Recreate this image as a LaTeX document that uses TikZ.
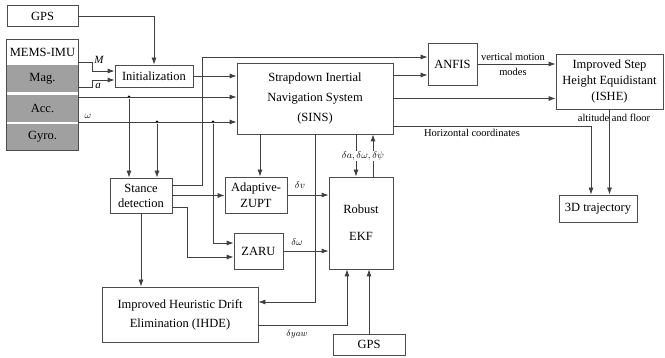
\documentclass[tikz,border=0pt]{standalone}
\usepackage{fontspec}
\setmainfont{Liberation Serif}
\usetikzlibrary{positioning, arrows.meta}
\definecolor{imugray}{RGB}{160,160,160}

\begin{document}
\begin{tikzpicture}[x=1pt, y=-1pt,
        block/.style={rectangle, draw=black!70, line width=0.8pt, fill=white, align=center, inner sep=2pt, font=\fontsize{12.5}{16}\selectfont},
        row/.style={rectangle, draw=none, minimum width=71pt, inner sep=0pt, font=\fontsize{12.5}{15}\selectfont},
        arrow/.style={-{Latex[length=7pt,width=5pt]}, line width=0.8pt, draw=black!75},
        lbl/.style={inner sep=1pt, font=\fontsize{10.5}{12}\selectfont},
        dot/.style={circle, fill=black, inner sep=0pt, minimum size=3pt}
    ]
    \useasboundingbox (0,0) rectangle (665,358);

    % sensors
    \node[block, minimum width=71pt, minimum height=21pt] (gpsa) at (42.5,16) {GPS};
    \node[row, minimum height=25pt] (mems) at (42.5,52.5) {MEMS-IMU};
    \node[row, fill=imugray, minimum height=27pt] (mag) at (42.5,78.5) {Mag.};
    \node[row, fill=imugray, minimum height=27pt] (acc) at (42.5,108.5) {Acc.};
    \node[row, fill=imugray, minimum height=26pt] (gyro) at (42.5,137) {Gyro.};
    \draw[line width=0.8pt, draw=black!70] (mems.north west) rectangle (gyro.south east);

    % blocks
    \node[block, minimum width=78pt, minimum height=22pt] (init) at (154,76) {Initialization};
    \node[block, minimum width=156pt, minimum height=71pt, font=\fontsize{12.5}{20}\selectfont] (sins) at (315,98.5) {Strapdown Inertial\\Navigation System\\(SINS)};
    \node[block, minimum width=49pt, minimum height=42pt] (anfis) at (452.5,64) {ANFIS};
    \node[block, minimum width=107pt, minimum height=55pt] (ishe) at (609.5,81.5) {Improved Step\\Height Equidistant\\(ISHE)};
    \node[block, minimum width=78pt, minimum height=27pt] (traj) at (598,208.5) {3D trajectory};
    \node[block, minimum width=62pt, minimum height=35pt, font=\fontsize{12.5}{15}\selectfont] (stance) at (141,195.5) {Stance\\detection};
    \node[block, minimum width=62pt, minimum height=36pt] (zupt) at (256,195) {Adaptive-\\ZUPT};
    \node[block, minimum width=49pt, minimum height=36pt] (zaru) at (258.5,251) {ZARU};
    \node[block, minimum width=64pt, minimum height=92pt, font=\fontsize{12.5}{27}\selectfont] (ekf) at (361,223) {Robust\\EKF};
    \node[block, minimum width=156pt, minimum height=55pt, font=\fontsize{12.5}{19}\selectfont] (ihde) at (180,314.5) {Improved Heuristic Drift\\Elimination (IHDE)};
    \node[block, minimum width=72pt, minimum height=21pt] (gpsb) at (369,344.5) {GPS};

    % inputs
    \coordinate (mout) at (78,62);
    \coordinate (aout) at (78,87);
    \coordinate (accout) at (78,97);
    \coordinate (gyrout) at (78,122);
    \node[dot] (d1) at (129,97) {};
    \node[dot] (d2) at (157,122) {};
    \node[dot] (d3) at (213,122) {};

    \draw[arrow] (gpsa.east) -| (init.north);
    \draw[arrow] (mout) -- ++(14,0) |- ([yshift=5pt]init.west);
    \draw[arrow] (aout) -- ++(14,0) |- ([yshift=-4pt]init.west);
    \node[lbl, font=\fontsize{11}{12}\itshape] at (99,60) {M};
    \node[lbl, font=\fontsize{11}{12}\itshape] at (98,86) {a};
    \node[lbl, font=\fontsize{10}{12}\itshape] at (88,116) {$\omega$};
    \draw[arrow] (init.east) -- (init.east -| sins.west);
    \draw[arrow] (accout) -- (accout -| sins.west);
    \draw[arrow] (gyrout) -- (gyrout -| sins.west);
    \draw[arrow] (d1) -- (d1 |- stance.north);
    \draw[arrow] (d2) -- (d2 |- stance.north);

    % stance detection
    \draw[arrow] ([yshift=10.5pt]stance.east) -- ++(30,0) |- ([yshift=7pt]anfis.west);
    \draw[arrow] (stance.east) -- (stance.east -| zupt.west);
    \draw[arrow] ([yshift=-11.5pt]stance.east) -- ++(15,0) |- ([yshift=-6pt]zaru.west);
    \draw[arrow] (d3) |- ([yshift=8pt]zaru.west);
    \draw[arrow] (stance.south) -- (stance.south |- ihde.north);

    % SINS and EKF
    \draw[arrow] ([xshift=-55pt]sins.south) -- ([xshift=4pt]zupt.north);
    \draw[arrow] (sins.south) |- ([yshift=12.5pt]ihde.east);
    \draw[arrow] ([xshift=41pt]sins.south) -- ([xshift=-5pt]ekf.north);
    \draw[arrow] ([xshift=12pt]ekf.north) -- ([xshift=58pt]sins.south);
    \node[lbl, fill=white, font=\fontsize{10}{12}\selectfont] at (363,156) {$\delta a, \delta\omega, \delta\psi$};
    \draw[arrow] (zupt.east) -- (zupt.east -| ekf.west);
    \node[lbl, font=\fontsize{10}{12}\selectfont] at (300,185) {$\delta v$};
    \draw[arrow] (zaru.east) -- (zaru.east -| ekf.west);
    \node[lbl, font=\fontsize{10}{12}\selectfont] at (297,242) {$\delta\omega$};
    \draw[arrow] ([yshift=-10.5pt]ihde.east) -| ([xshift=-14pt]ekf.south);
    \node[lbl, font=\fontsize{9}{12}\selectfont] at (297,334) {$\delta yaw$};
    \draw[arrow] (gpsb.north) -- (gpsb.north |- ekf.south);

    % outputs
    \draw[arrow] ([yshift=23.5pt]sins.east) -- ([yshift=23.5pt]sins.east -| anfis.west);
    \draw[arrow] (sins.east) -- (sins.east -| ishe.west);
    \draw[arrow] (anfis.east) -- (anfis.east -| ishe.west);
    \node[lbl] at (513,57) {vertical motion};
    \node[lbl] at (513,72) {modes};
    \draw[arrow] ([yshift=-27.5pt]sins.east) -| ([xshift=-7pt]traj.north);
    \node[lbl] at (472,133) {Horizontal coordinates};
    \draw[arrow] (ishe.south) -- (ishe.south |- traj.north);
    \node[lbl] at (614,118) {altitude and floor};
\end{tikzpicture}
\end{document}
